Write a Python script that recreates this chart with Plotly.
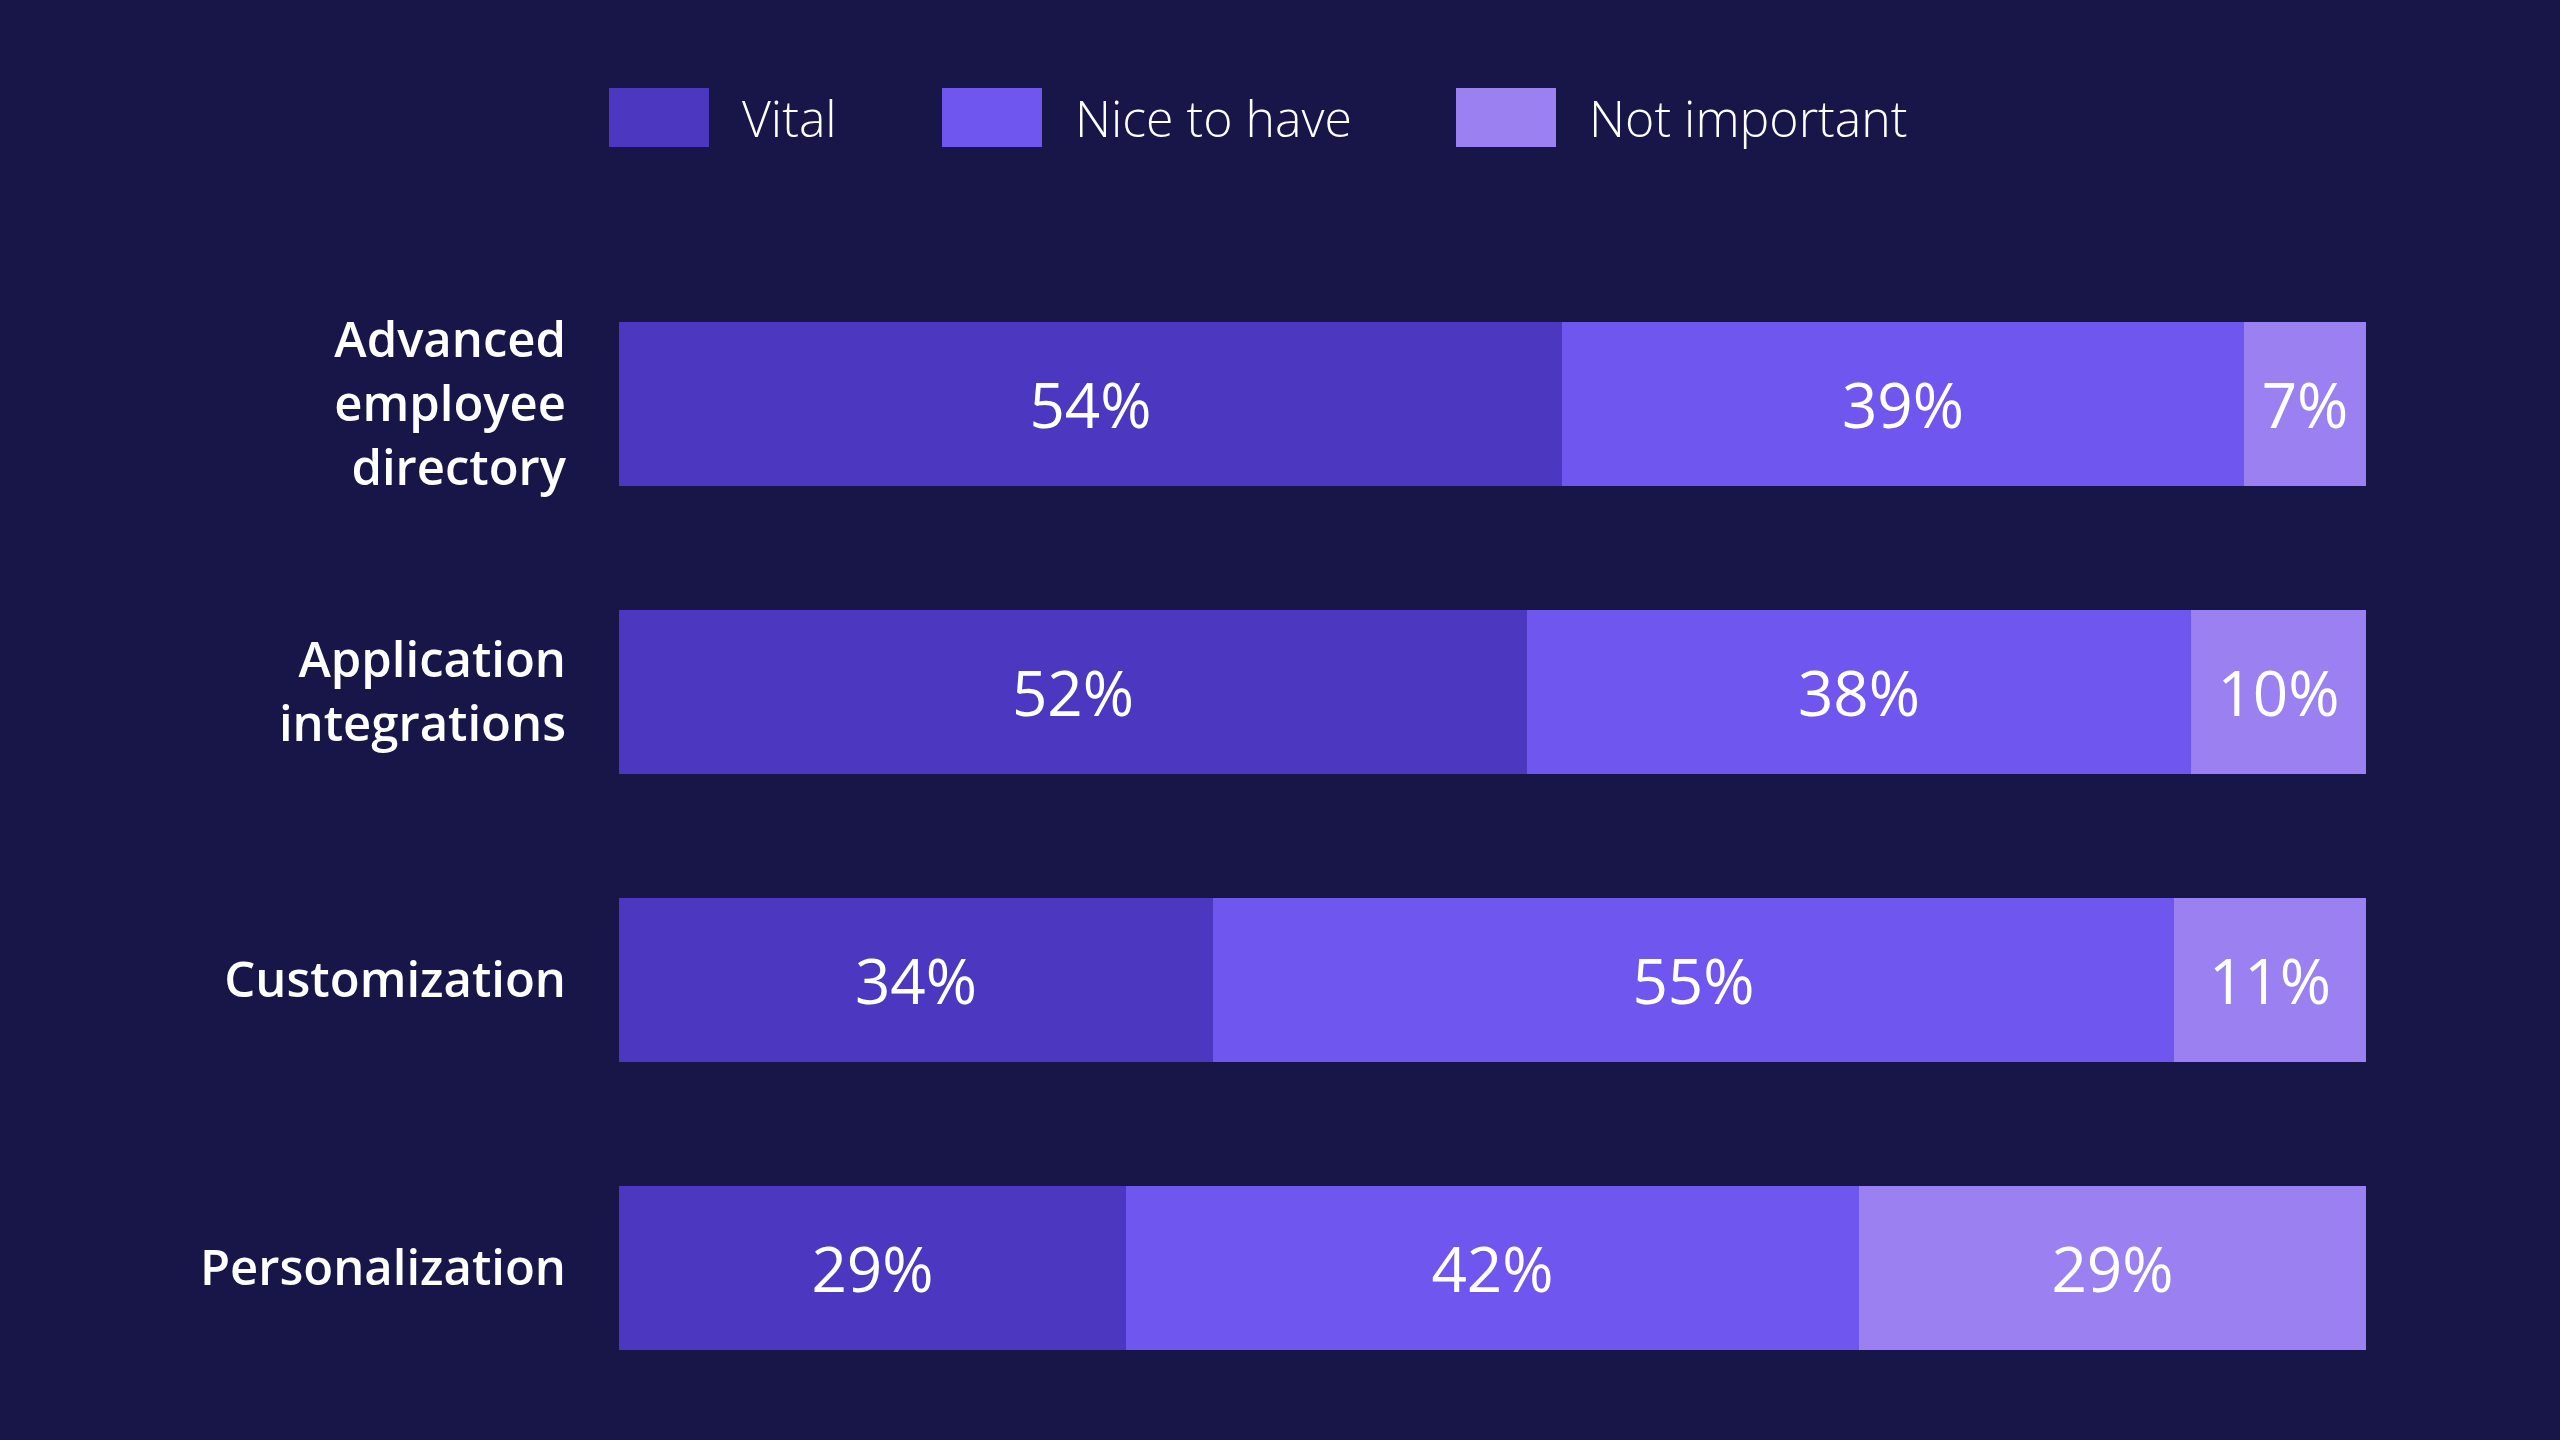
import plotly.graph_objects as go

features = ["Advanced<br>employee<br>directory", "Application<br>integrations",
            "Customization", "Personalization"]
series_names = ["Vital", "Nice to have", "Not important"]
vital = [54, 52, 34, 29]
nice_to_have = [39, 38, 55, 42]
not_important = [7, 10, 11, 29]

colors = ["#4c38c0", "#6e56ee", "#9b80f1"]
bg = "#181649"
font_family = "Open Sans"

fig = go.Figure()
for name, vals, col in zip(series_names, [vital, nice_to_have, not_important], colors):
    fig.add_trace(go.Bar(
        y=features, x=vals, name=name, orientation="h",
        marker=dict(color=col, line=dict(width=0)),
        text=[f"{v}%" for v in vals], textposition="inside",
        insidetextanchor="middle", constraintext="none",
        textfont=dict(family=font_family, size=62, color="white", weight=400),
        width=0.57, showlegend=False,
    ))

# legend drawn by hand, the squares are much bigger than plotly's own
legend_x = [609, 942, 1456]
for name, col, x0 in zip(series_names, colors, legend_x):
    fig.add_shape(type="rect", xref="paper", yref="paper",
                  x0=(x0 - 619) / 1747, x1=(x0 + 100 - 619) / 1747,
                  y0=1 + (260 - 147) / 1152, y1=1 + (260 - 88) / 1152,
                  fillcolor=col, line=dict(width=0))
    fig.add_annotation(xref="paper", yref="paper",
                       x=(x0 + 131 - 619) / 1747, y=1 + (260 - 118) / 1152,
                       text=name, showarrow=False, xanchor="left", yanchor="middle",
                       font=dict(family=font_family, size=50, color="white", weight=300))

fig.update_layout(
    barmode="stack",
    width=2560, height=1440,
    paper_bgcolor=bg, plot_bgcolor=bg,
    margin=dict(l=619, r=194, t=260, b=28),
    bargap=0,
    xaxis=dict(range=[0, 100], visible=False),
    yaxis=dict(autorange="reversed", showgrid=False, zeroline=False, showline=False,
               ticks="", ticklabelstandoff=52,
               tickfont=dict(family=font_family, size=49, color="white", weight=600)),
    font=dict(family=font_family, color="white"),
)

fig.write_html("out.html", config={"displayModeBar": False},
               post_script="document.body.style.margin='0';")
